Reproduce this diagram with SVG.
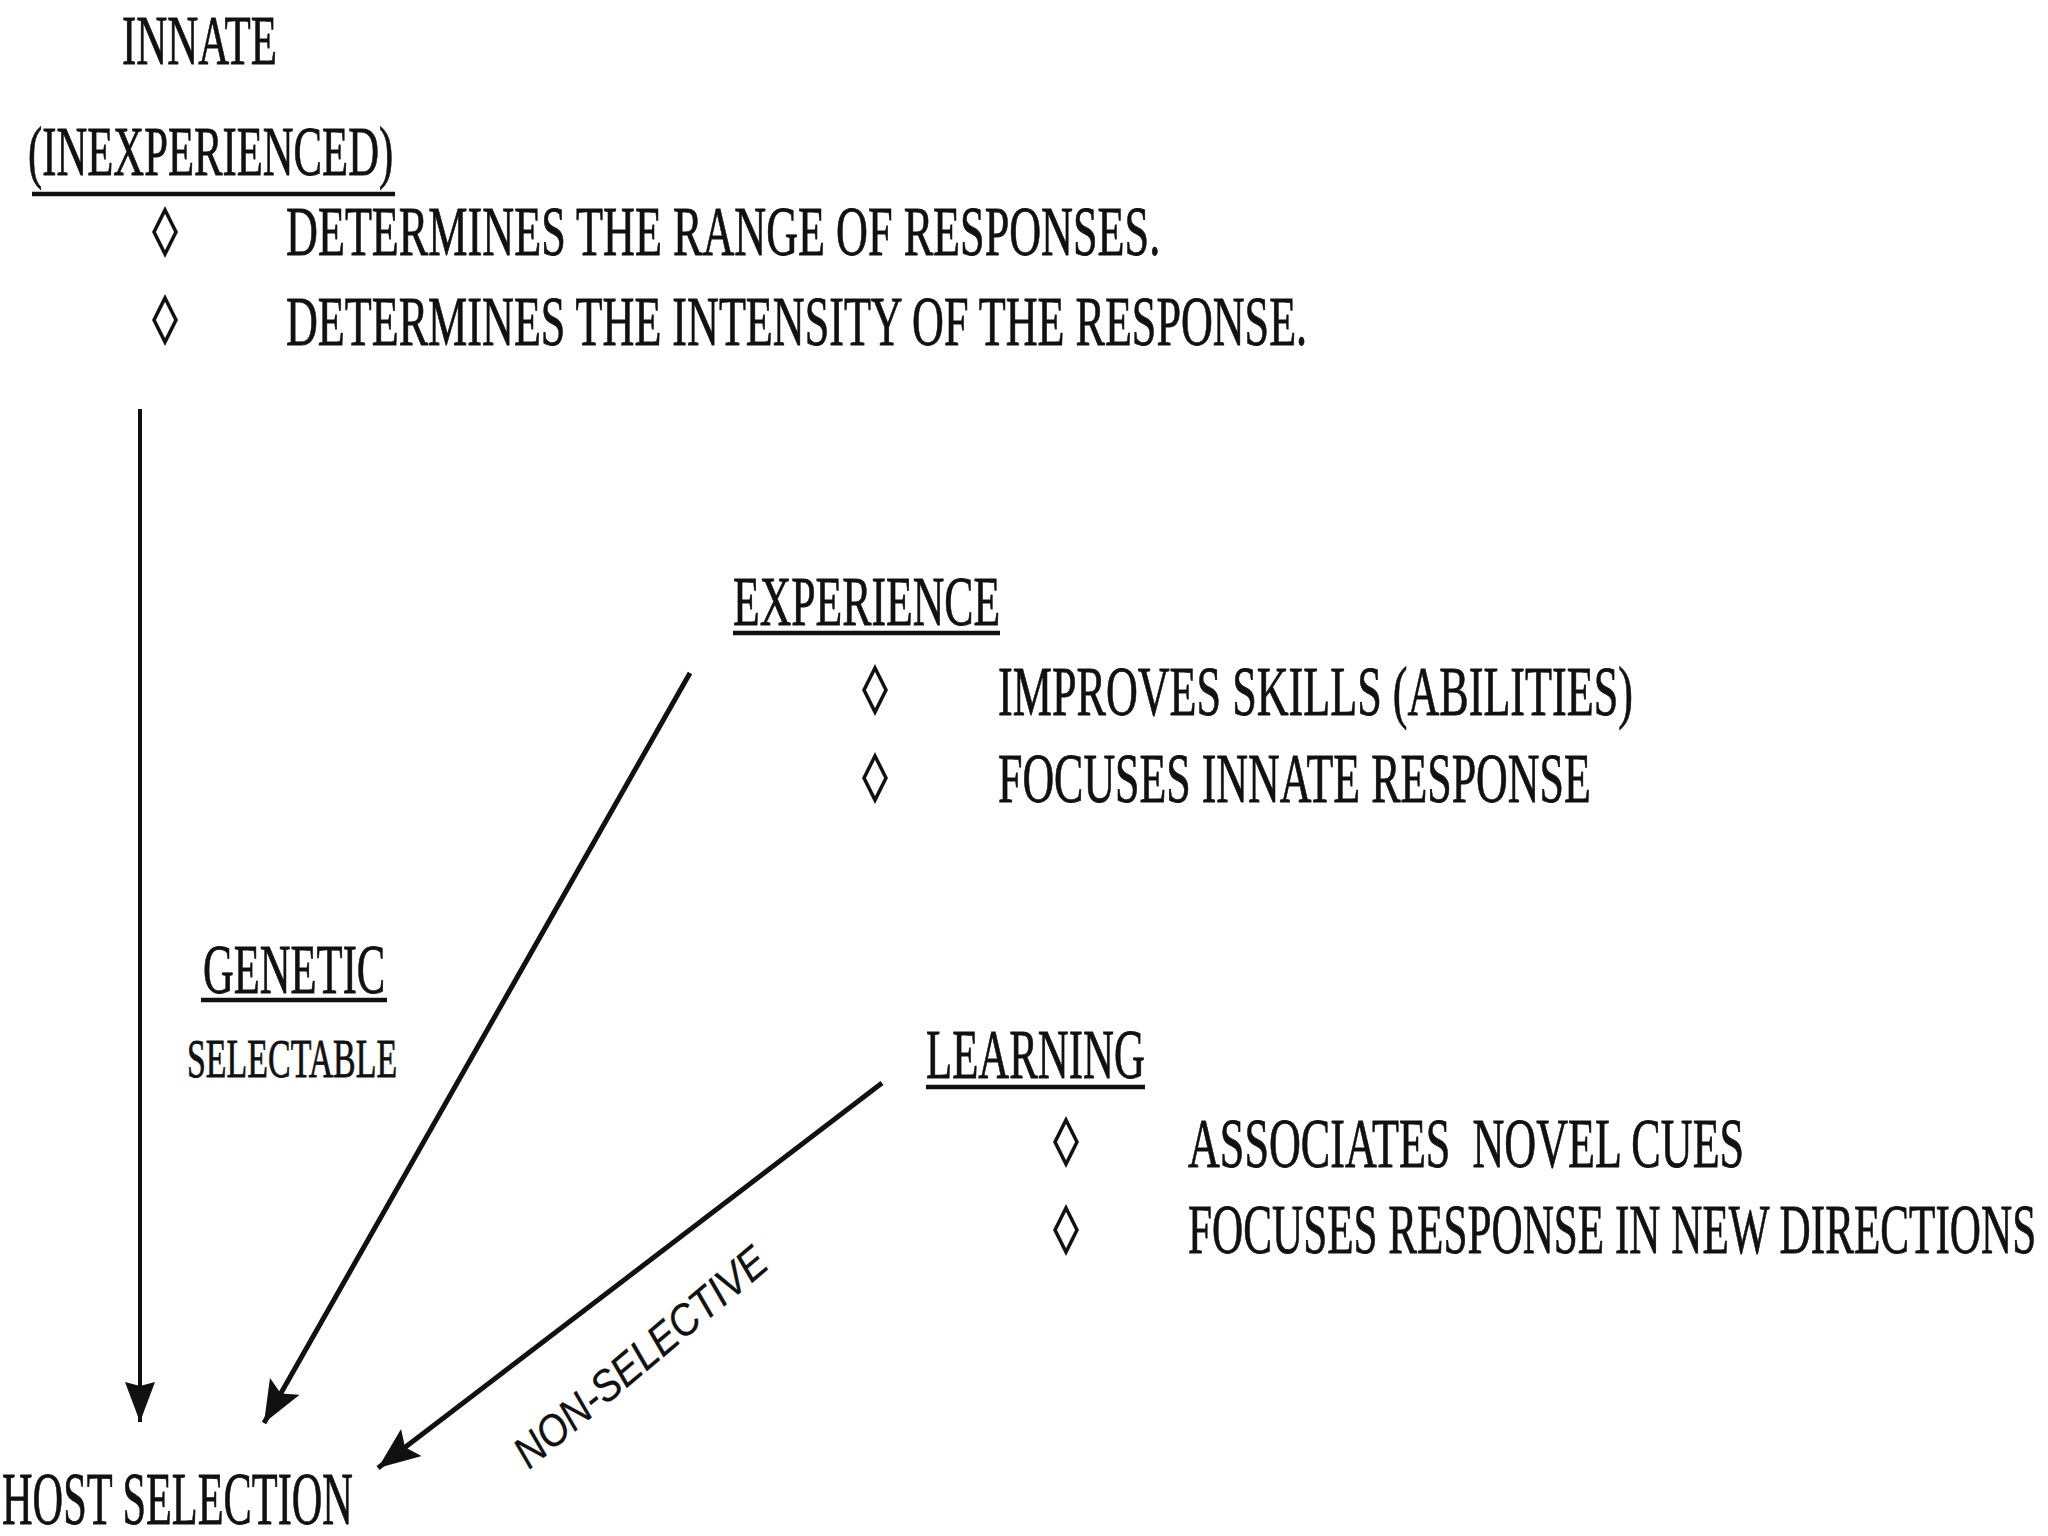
<svg xmlns="http://www.w3.org/2000/svg" width="2048" height="1536" viewBox="0 0 2048 1536">
<defs>
<style>
text{font-family:"Liberation Serif","DejaVu Serif",serif;fill:#111;stroke:#111;stroke-width:0.8;}
.t{font-size:70px;}
.h{font-size:70px;}
.s{font-size:55px;}
.hs{font-size:74px;}
.it{font-family:"Liberation Sans","DejaVu Sans",sans-serif;font-style:italic;font-size:44px;stroke-width:0.3;}
.ul{stroke:#111;stroke-width:4.5;}
.ln{stroke:#111;stroke-width:4;fill:none;marker-end:url(#ah);}
.ln2{stroke:#111;stroke-width:5;fill:none;marker-end:url(#ah2);}
.dm{fill:none;stroke:#111;stroke-width:3.5;}
</style>
<marker id="ah" markerUnits="userSpaceOnUse" markerWidth="44" markerHeight="34" refX="40" refY="15" orient="auto">
<path d="M0,0 L40,15 L0,30 L4,15 z" fill="#111"/>
</marker>
<marker id="ah2" markerUnits="userSpaceOnUse" markerWidth="46" markerHeight="38" refX="42" refY="17" orient="auto">
<path d="M0,0 L42,17 L0,34 L8,17 z" fill="#111"/>
</marker>
<polygon id="dia" points="0,-22 11,0 0,22 -11,0"/>
</defs>
<rect width="2048" height="1536" fill="#fff"/>

<g id="innate">
<text class="h" transform="translate(122,64) scale(0.62,1)" textLength="250" lengthAdjust="spacingAndGlyphs">INNATE</text>
<text class="h" transform="translate(28,175) scale(0.62,1)" textLength="589" lengthAdjust="spacingAndGlyphs">(INEXPERIENCED)</text>
<line class="ul" x1="32" y1="194" x2="395" y2="194"/>
<use href="#dia" class="dm" x="165" y="232"/>
<text class="t" transform="translate(286,255) scale(0.62,1)" textLength="1410" lengthAdjust="spacingAndGlyphs">DETERMINES THE RANGE OF RESPONSES.</text>
<use href="#dia" class="dm" x="165" y="320"/>
<text class="t" transform="translate(286,345) scale(0.62,1)" textLength="1647" lengthAdjust="spacingAndGlyphs">DETERMINES THE INTENSITY OF THE RESPONSE.</text>
</g>

<g id="experience">
<text class="h" transform="translate(733,625) scale(0.62,1)" textLength="431" lengthAdjust="spacingAndGlyphs">EXPERIENCE</text>
<line class="ul" x1="733" y1="633" x2="1000" y2="633"/>
<use href="#dia" class="dm" x="875" y="690"/>
<text class="t" transform="translate(998,715) scale(0.62,1)" textLength="1024" lengthAdjust="spacingAndGlyphs">IMPROVES SKILLS (ABILITIES)</text>
<use href="#dia" class="dm" x="875" y="778"/>
<text class="t" transform="translate(998,802) scale(0.62,1)" textLength="956" lengthAdjust="spacingAndGlyphs">FOCUSES INNATE RESPONSE</text>
</g>

<g id="genetic">
<text class="h" transform="translate(203,993) scale(0.62,1)" textLength="294" lengthAdjust="spacingAndGlyphs">GENETIC</text>
<line class="ul" x1="201" y1="1000" x2="387" y2="1000"/>
<text class="s" transform="translate(187,1077) scale(0.62,1)" textLength="339" lengthAdjust="spacingAndGlyphs">SELECTABLE</text>
</g>

<g id="learning">
<text class="h" transform="translate(926,1078) scale(0.62,1)" textLength="353" lengthAdjust="spacingAndGlyphs">LEARNING</text>
<line class="ul" x1="926" y1="1087" x2="1145" y2="1087"/>
<use href="#dia" class="dm" x="1066" y="1142"/>
<text class="t" xml:space="preserve" transform="translate(1188,1167) scale(0.62,1)" textLength="897" lengthAdjust="spacingAndGlyphs">ASSOCIATES  NOVEL CUES</text>
<use href="#dia" class="dm" x="1066" y="1230"/>
<text class="t" transform="translate(1188,1253) scale(0.62,1)" textLength="1368" lengthAdjust="spacingAndGlyphs">FOCUSES RESPONSE IN NEW DIRECTIONS</text>
</g>

<g id="host-selection">
<text class="hs" transform="translate(2,1524) scale(0.62,1)" textLength="566" lengthAdjust="spacingAndGlyphs">HOST SELECTION</text>
</g>

<g id="connectors">
<line class="ln" x1="140" y1="409" x2="140" y2="1422"/>
<line class="ln2" x1="690" y1="673" x2="264" y2="1423"/>
<line class="ln2" x1="882" y1="1083" x2="378" y2="1468"/>
<text class="it" transform="translate(529,1470) rotate(-40)" textLength="316" lengthAdjust="spacingAndGlyphs">NON-SELECTIVE</text>
</g>
</svg>
